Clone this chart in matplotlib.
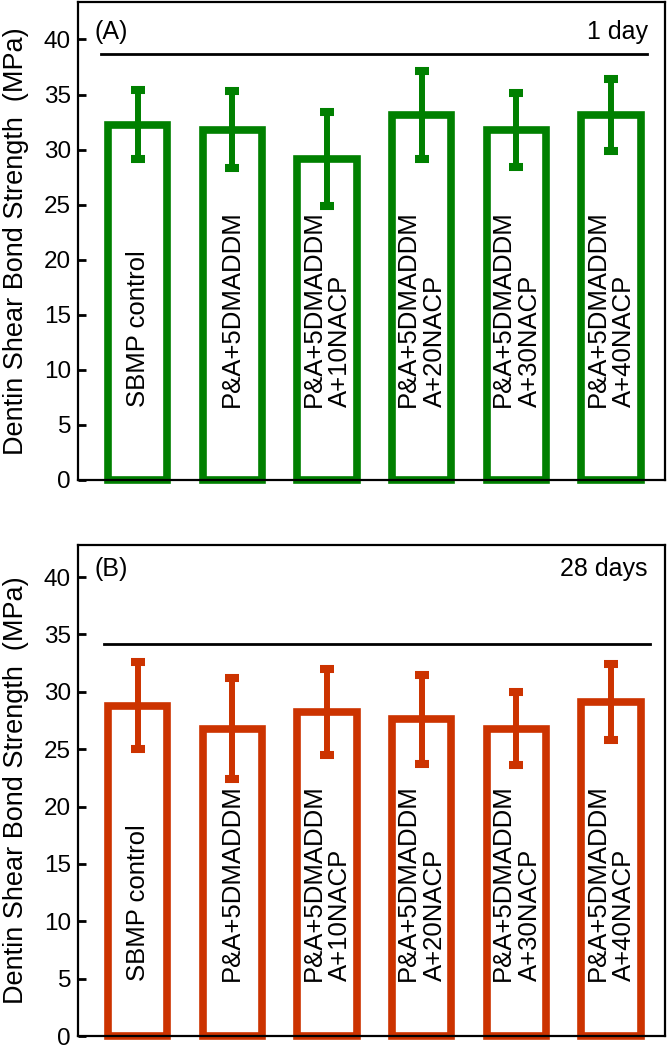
import matplotlib
matplotlib.use("Agg")
import matplotlib.pyplot as plt
import numpy as np

plt.rcParams['font.family'] = ['Liberation Sans', 'DejaVu Sans']

# 分组名称（柱内竖排文字）
groups = ['SBMP control',
          'P&A+5DMADDM',
          'P&A+5DMADDM\nA+10NACP',
          'P&A+5DMADDM\nA+20NACP',
          'P&A+5DMADDM\nA+30NACP',
          'P&A+5DMADDM\nA+40NACP']

# 1 day
mean_1d = [32.25, 31.8, 29.15, 33.1, 31.75, 33.15]
err_1d = [3.15, 3.5, 4.25, 4.0, 3.35, 3.25]
line_1d = 38.7

# 28 days
mean_28d = [28.8, 26.8, 28.25, 27.6, 26.8, 29.1]
err_28d = [3.8, 4.4, 3.75, 3.9, 3.2, 3.3]
line_28d = 34.2

panel_labels = ['(A)', '(B)']
time_labels = ['1 day', '28 days']
colors = ['#008000', '#cc3300']

fig = plt.figure(figsize=(6.69, 10.5), dpi=100)
ax_a = fig.add_axes([0.1166, 0.5429, 0.8774, 0.4552])
ax_b = fig.add_axes([0.1166, 0.0133, 0.8774, 0.4677])


def draw_panel(ax, means, errs, hline, color, ytop, text_y, line_x, label, tlabel):
    x = np.arange(len(means))
    bars = ax.bar(x, means, width=0.63, facecolor='none', edgecolor=color,
                  linewidth=5.5, zorder=2)
    for b in bars:
        b.set_clip_on(False)
    ax.errorbar(x, means, yerr=errs, fmt='none', ecolor=color,
                elinewidth=4.3, capsize=4.7, capthick=5.8, zorder=3)
    # 柱内竖排文字
    for xi, g in zip(x, groups):
        ax.text(xi, text_y, g, rotation=90, ha='center', va='bottom',
                multialignment='left', fontsize=18.5, linespacing=1.15)
    ax.plot(line_x, [hline, hline], color='black', linewidth=2)
    ax.text(-0.46, 40.7, label, fontsize=18, ha='left', va='center')
    ax.text(5.39, 40.7, tlabel, fontsize=18, ha='right', va='center')

    ax.set_xlim(-0.63, 5.57)
    ax.set_ylim(0, ytop)
    ax.set_yticks(np.arange(0, 41, 5))
    ax.set_xticks([])
    ax.tick_params(axis='y', direction='in', length=6, width=2,
                   labelsize=17.5, pad=5)
    for s in ax.spines.values():
        s.set_linewidth(1.6)
    ax.set_ylabel('Dentin Shear Bond Strength  (MPa)', fontsize=19.5)
    ax.yaxis.set_label_coords(-0.0835, 0.5)


draw_panel(ax_a, mean_1d, err_1d, line_1d, colors[0], 43.4, 6.6,
           [-0.39, 5.38], panel_labels[0], time_labels[0])
draw_panel(ax_b, mean_28d, err_28d, line_28d, colors[1], 42.8, 4.8,
           [-0.36, 5.41], panel_labels[1], time_labels[1])

fig.savefig('out.png', dpi=100)
